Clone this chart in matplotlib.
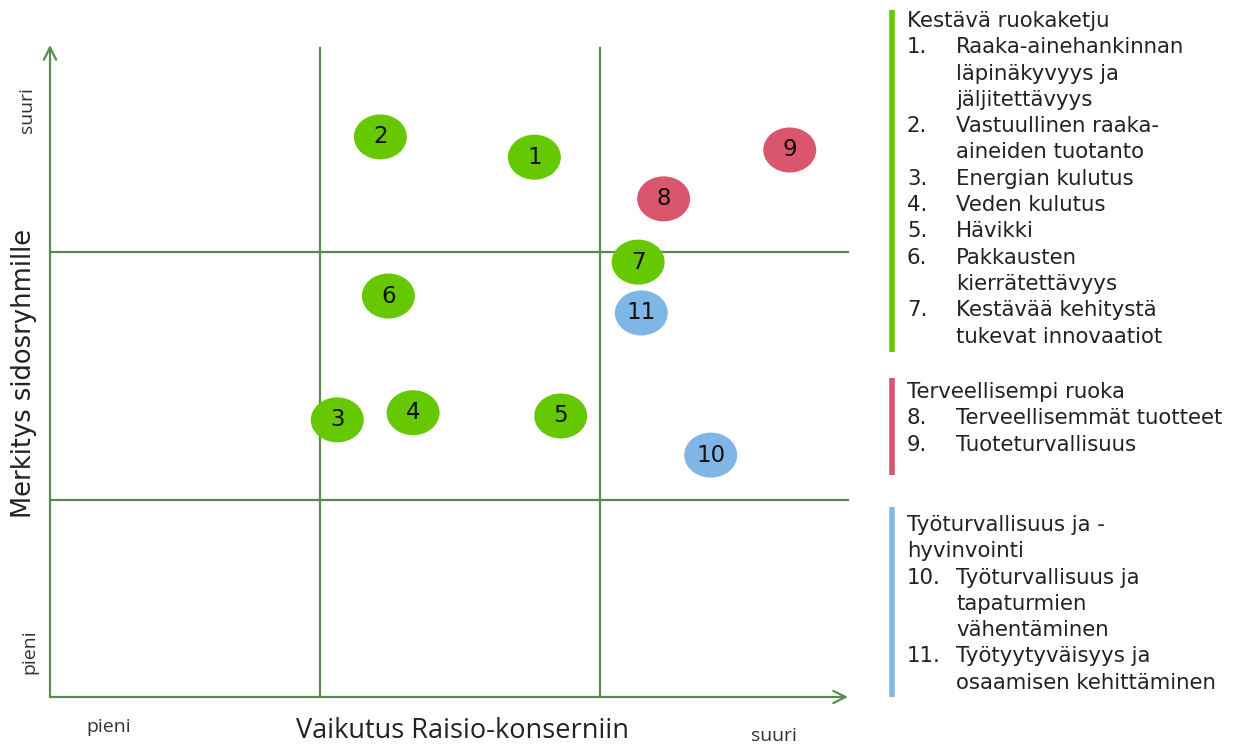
import matplotlib
matplotlib.use("Agg")
import matplotlib.pyplot as plt
from matplotlib.patches import Ellipse

# item number, impact on Raisio (x, 0-100) and importance for stakeholders (y, 0-100)
item_ids = [1, 2, 3, 4, 5, 6, 7, 8, 9, 10, 11]
impact = [60.7, 41.4, 36.0, 45.5, 64.0, 42.4, 73.7, 76.9, 92.7, 82.8, 74.1]
importance = [82.8, 85.9, 42.5, 43.6, 43.1, 61.5, 66.7, 76.4, 83.9, 37.1, 58.9]
item_group = [0, 0, 0, 0, 0, 0, 0, 1, 1, 2, 2]

# quadrant boundaries
x_cuts = [33.8, 68.9]
y_cuts = [30.2, 68.3]

group_names = ["Kestävä ruokaketju", "Terveellisempi ruoka",
               "Työturvallisuus ja -\nhyvinvointi"]
item_labels = [
    "Raaka-ainehankinnan\nläpinäkyvyys ja\njäljitettävyys",
    "Vastuullinen raaka-\naineiden tuotanto",
    "Energian kulutus",
    "Veden kulutus",
    "Hävikki",
    "Pakkausten\nkierrätettävyys",
    "Kestävää kehitystä\ntukevat innovaatiot",
    "Terveellisemmät tuotteet",
    "Tuoteturvallisuus",
    "Työturvallisuus ja\ntapaturmien\nvähentäminen",
    "Työtyytyväisyys ja\nosaamisen kehittäminen",
]

group_colors = ["#66c800", "#d9566c", "#80b6e6"]
line_color = "#5a8a50"
text_color = "#222222"

W, H = 1235, 746
fig = plt.figure(figsize=(W / 100, H / 100), dpi=100)

# main chart area (pixel box of the axes arrows)
x0, y0, x1, y1 = 50, 697, 848, 45
ax = fig.add_axes([x0 / W, (H - y0) / H, (x1 - x0) / W, (y0 - y1) / H])
ax.set_xlim(0, 100)
ax.set_ylim(0, 100)
ax.axis("off")

arrow_kw = dict(arrowstyle="->", color=line_color, lw=1.6, mutation_scale=22,
                shrinkA=0, shrinkB=0)
ax.annotate("", xy=(100, 0), xytext=(0, 0), arrowprops=arrow_kw, annotation_clip=False)
ax.annotate("", xy=(0, 100), xytext=(0, 0), arrowprops=arrow_kw, annotation_clip=False)
for xc in x_cuts:
    ax.plot([xc, xc], [0, 99.5], color=line_color, lw=1.6, clip_on=False)
for yc in y_cuts:
    ax.plot([0, 100], [yc, yc], color=line_color, lw=1.6, clip_on=False)

# ellipse size in data units (~53 x 45 px)
ew = 53 / ((x1 - x0) / 100)
eh = 45 / ((y0 - y1) / 100)
for n, xv, yv, g in zip(item_ids, impact, importance, item_group):
    ax.add_patch(Ellipse((xv, yv), ew, eh, facecolor=group_colors[g],
                         edgecolor="none", zorder=3))
    ax.text(xv, yv, str(n), ha="center", va="center", fontsize=16.5,
            color="#111111", zorder=4)

# overlay in pixel coordinates for labels and the side legend
ov = fig.add_axes([0, 0, 1, 1], zorder=-1)
ov.set_xlim(0, W)
ov.set_ylim(H, 0)
ov.axis("off")

ov.text(24, 373, "Merkitys sidosryhmille", rotation=90, ha="center", va="center",
        fontsize=18.5, color=text_color)
ov.text(27, 110, "suuri", rotation=90, ha="center", va="center", fontsize=14,
        family="Open Sans", color="#333333")
ov.text(29, 652, "pieni", rotation=90, ha="center", va="center", fontsize=14,
        family="Open Sans", color="#333333")
ov.text(462, 731, "Vaikutus Raisio-konserniin", ha="center", va="center",
        fontsize=19.5, family="Open Sans", color=text_color)
ov.text(109, 727, "pieni", ha="center", va="center", fontsize=14,
        family="Open Sans", color="#333333")
ov.text(774, 736, "suuri", ha="center", va="center", fontsize=14,
        family="Open Sans", color="#333333")

# side legend
group_top = [21, 392, 525]
bar_span = [(10, 352), (378, 475), (507, 697)]
line_h = 26.3
fs = 15.3
for g, name in enumerate(group_names):
    b0, b1 = bar_span[g]
    ov.plot([892, 892], [b0, b1], color=group_colors[g], lw=4, solid_capstyle="butt")
    y = group_top[g]
    for part in name.split("\n"):
        ov.text(907, y, part, ha="left", va="center", fontsize=fs, color=text_color)
        y += line_h
    for n, lab, ig in zip(item_ids, item_labels, item_group):
        if ig != g:
            continue
        ov.text(907, y, f"{n}.", ha="left", va="center", fontsize=fs, color=text_color)
        for part in lab.split("\n"):
            ov.text(956, y, part, ha="left", va="center", fontsize=fs, color=text_color)
            y += line_h

fig.savefig("out.png", dpi=100)
